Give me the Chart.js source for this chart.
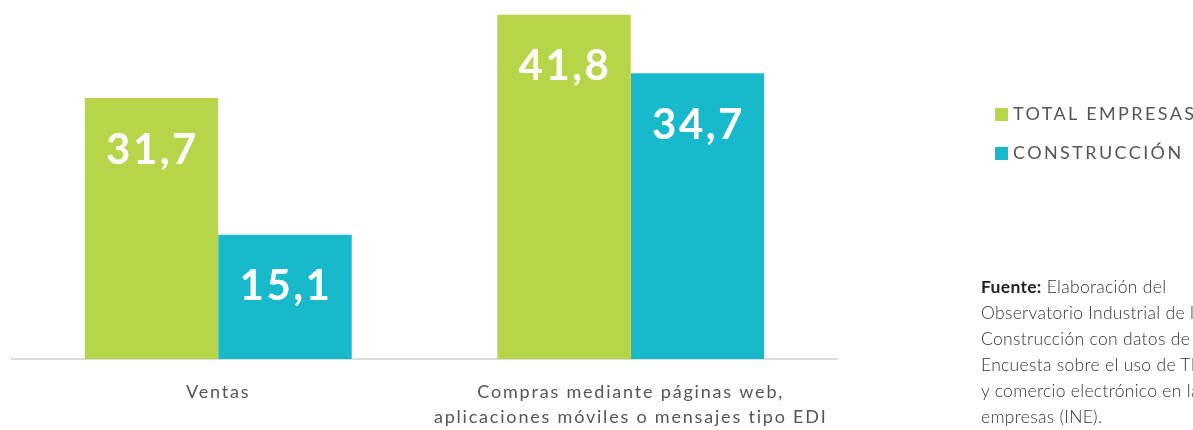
<!DOCTYPE html>
<html lang="es">
<head>
<meta charset="utf-8">
<title>Comercio electrónico</title>
<script src="https://cdn.jsdelivr.net/npm/chart.js@4/dist/chart.umd.min.js"></script>
<style>
    html, body { margin: 0; padding: 0; background: #fff; overflow: hidden; }
    #wrap { position: relative; width: 1193px; height: 430px; overflow: hidden; font-family: Lato, "Noto Sans", sans-serif; }
    #chart { position: absolute; left: 0; top: 0; }
    .legend { position: absolute; left: 995px; color: #555; font-size: 18px; letter-spacing: 2.4px; white-space: nowrap; }
    .legend span { display: inline-block; width: 13px; height: 13px; margin-right: 5px; vertical-align: -1px; }
    #source { position: absolute; left: 981px; top: 274px; width: 300px; color: #333; font-size: 17.5px; letter-spacing: 0.3px; line-height: 26px; font-weight: 300; white-space: nowrap; }
    #source b { font-weight: 700; color: #222; }
</style>
</head>
<body>
<div id="wrap">
    <canvas id="chart" width="1193" height="430"></canvas>
    <div class="legend" style="top:102px"><span style="background:#b7d548"></span>TOTAL EMPRESAS</div>
    <div class="legend" style="top:141px"><span style="background:#17b9ca"></span>CONSTRUCCIÓN</div>
    <div id="source"><b>Fuente:</b> Elaboración del<br>Observatorio Industrial de la<br>Construcción con datos de la<br>Encuesta sobre el uso de TIC<br>y comercio electrónico en las<br>empresas (INE).</div>
</div>
<script>
const categories = [
    'Ventas',
    ['Compras mediante páginas web,', 'aplicaciones móviles o mensajes tipo EDI']
];
const totalEmpresas = [31.7, 41.8];
const construccion = [15.1, 34.7];

// white value labels inside the top of each bar
const barLabels = {
    id: 'barLabels',
    afterDatasetsDraw(chart) {
        const ctx = chart.ctx;
        ctx.save();
        ctx.fillStyle = '#fff';
        ctx.font = 'bold 42px Lato, "Noto Sans", sans-serif';
        ctx.letterSpacing = '2.5px';
        ctx.textAlign = 'center';
        ctx.textBaseline = 'middle';
        chart.data.datasets.forEach((ds, i) => {
            chart.getDatasetMeta(i).data.forEach((bar, j) => {
                const txt = ds.data[j].toFixed(1).replace('.', ',');
                ctx.fillText(txt, bar.x + 1, bar.y + 52);
            });
        });
        ctx.restore();
    }
};

// wider tracking for axis text
const spacing = {
    id: 'spacing',
    beforeDraw(chart) { chart.ctx.letterSpacing = '1.8px'; }
};

new Chart(document.getElementById('chart'), {
    type: 'bar',
    data: {
        labels: categories,
        datasets: [
            { label: 'TOTAL EMPRESAS', data: totalEmpresas, backgroundColor: '#b7d548' },
            { label: 'CONSTRUCCIÓN', data: construccion, backgroundColor: '#17b9ca' }
        ]
    },
    options: {
        responsive: false,
        animation: false,
        layout: { padding: { left: 12, right: 356, top: 0, bottom: -13 } },
        datasets: { bar: { barPercentage: 1, categoryPercentage: 0.647 } },
        plugins: { legend: { display: false }, tooltip: { enabled: false } },
        scales: {
            y: { display: false, min: 0, max: 43.6 },
            x: {
                grid: { display: false },
                border: { display: true, color: '#dcdcdc', width: 2 },
                ticks: {
                    color: '#555',
                    padding: 13,
                    maxRotation: 0,
                    font: { family: 'Lato, "Noto Sans", sans-serif', size: 18, lineHeight: 1.39 }
                }
            }
        }
    },
    plugins: [barLabels, spacing]
});
</script>
</body>
</html>
